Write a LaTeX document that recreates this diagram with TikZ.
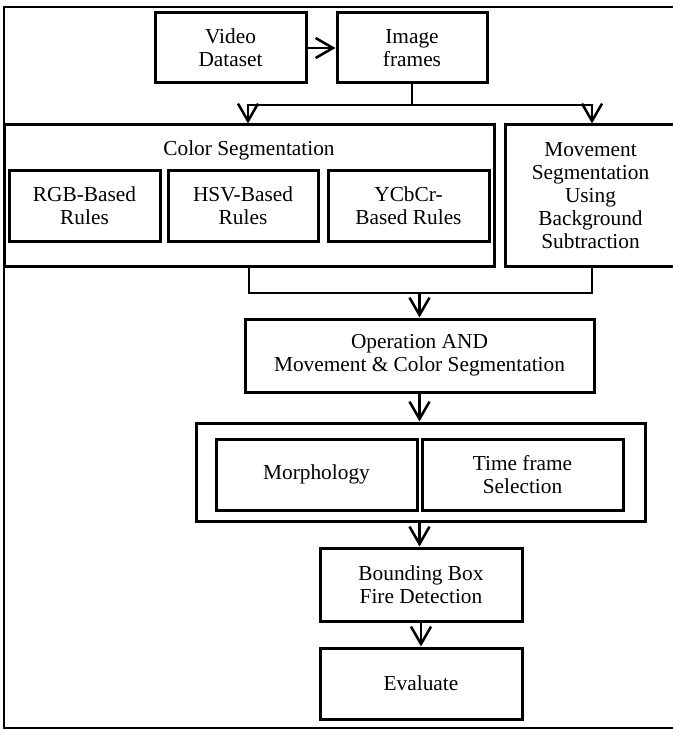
\documentclass[tikz,border=0pt]{standalone}
\usepackage{fontspec}
\setmainfont{Liberation Serif}
\usetikzlibrary{arrows.meta}
\newcommand\mkbox[6]{%
  \node[box, minimum width={(#4-#2)*0.75pt}, minimum height={(#5-#3)*0.75pt}] (#1) at ({(#2+#4)/2},{(#3+#5)/2}) {#6};}
\begin{document}
\begin{tikzpicture}[x=0.75pt,y=-0.75pt,
  box/.style={draw, line width=2.25pt, align=center, inner sep=0pt, font=\fontsize{16}{17.3}\selectfont},
  lbl/.style={align=center, inner sep=0pt, font=\fontsize{16}{17.3}\selectfont},
  frame/.style={draw, line width=1.5pt},
  conn/.style={line width=1.9pt},
  arr/.style={conn, -{Straight Barb[length=13pt,width=15pt]}}]
\useasboundingbox (0,0) rectangle (672,731);
\draw[frame] (4,7) rectangle (676,728);
% top row
\mkbox{vid}{155}{13}{306}{83}{Video\\Dataset}
\mkbox{img}{337}{13}{487}{83}{Image\\frames}
% color segmentation group
\mkbox{color}{4}{125}{494}{266}{}
\node[lbl] (ctitle) at (249,150) {Color Segmentation};
\mkbox{rgb}{9}{170}{160}{241}{RGB-Based\\Rules}
\mkbox{hsv}{168}{170}{318}{241}{HSV-Based\\Rules}
\mkbox{ycc}{328}{170}{489}{241}{YCbCr-\\Based Rules}
\mkbox{mov}{505}{125}{676}{266}{Movement\\Segmentation\\Using\\Background\\Subtraction}
% operation
\mkbox{op}{245}{319}{594}{392}{Operation AND\\Movement \& Color Segmentation}
% morphology group
\mkbox{morph}{196}{423}{645}{521}{}
\mkbox{mor}{216}{439}{417}{510}{Morphology}
\mkbox{tfs}{422}{439}{623}{510}{Time frame\\Selection}
% bottom
\mkbox{bb}{320}{548}{522}{621}{Bounding Box\\Fire Detection}
\mkbox{ev}{320}{648}{522}{719}{Evaluate}
% connectors
\draw[arr] (vid.east) -- (img.west);
\coordinate (sL) at (248,105);
\coordinate (sR) at (592,105);
\draw[conn] (img.south) -- (img.south |- sL);
\draw[arr] (sR) -- (sL) -- (sL |- color.north);
\draw[arr] (sL) -- (sR) -- (sR |- mov.north);
\coordinate (jL) at (249,293);
\coordinate (jR) at (592,293);
\draw[conn] (jL |- color.south) -- (jL) -- (jR) -- (jR |- mov.south);
\coordinate (jM) at (op.north |- jL);
\draw[arr] (jM) -- (op.north);
\draw[arr] (op.south) -- (op.south |- morph.north);
\draw[arr] (op.south |- morph.south) -- (op.south |- bb.north);
\draw[arr] (bb.south) -- (ev.north);
\end{tikzpicture}
\end{document}
